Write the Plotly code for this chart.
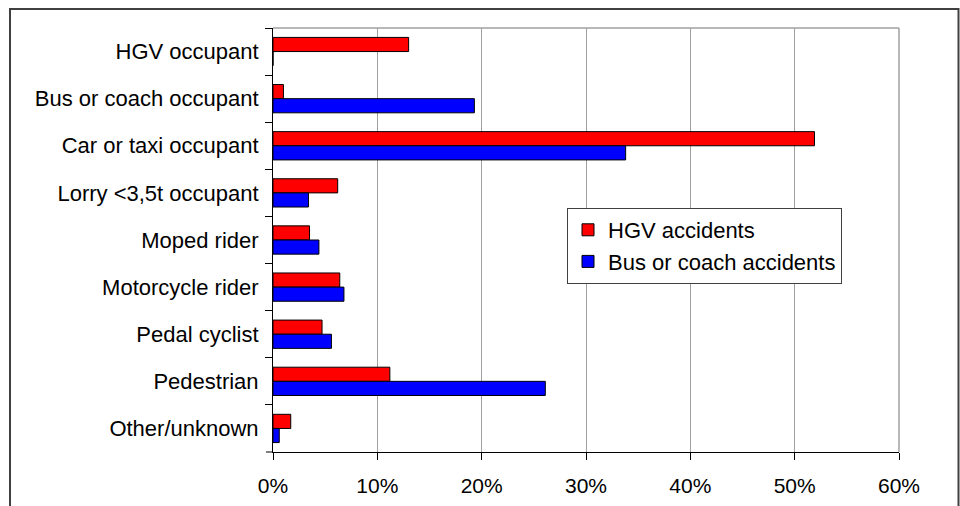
import plotly.graph_objects as go

categories = ["HGV occupant", "Bus or coach occupant", "Car or taxi occupant",
              "Lorry <3,5t occupant", "Moped rider", "Motorcycle rider",
              "Pedal cyclist", "Pedestrian", "Other/unknown"]
hgv_accidents = [13.0, 1.0, 51.9, 6.2, 3.5, 6.4, 4.7, 11.2, 1.7]
bus_accidents = [0.0, 19.3, 33.8, 3.4, 4.4, 6.8, 5.6, 26.1, 0.6]
x_ticks = [0, 10, 20, 30, 40, 50, 60]

FONT = "Liberation Sans, Arial, sans-serif"

fig = go.Figure()
fig.add_trace(go.Bar(y=categories, x=hgv_accidents, orientation="h",
                     name="HGV accidents",
                     marker=dict(color="#FF0000", line=dict(color="#000000", width=1))))
fig.add_trace(go.Bar(y=categories, x=bus_accidents, orientation="h",
                     name="Bus or coach accidents",
                     marker=dict(color="#0000FF", line=dict(color="#000000", width=1))))

W, H = 960, 506
L, R, T, B = 273, 899, 28, 452
pw, ph = R - L, B - T

def px(x):
    return (x - L) / pw

def py(y):
    return (B - y) / ph

shapes = [
    # outer chart frame
    dict(type="rect", xref="paper", yref="paper",
         x0=px(10), x1=px(958.5), y0=py(530), y1=py(9),
         line=dict(color="#404040", width=2), fillcolor="rgba(0,0,0,0)", layer="below"),
    # plot area top/right border
    dict(type="line", xref="paper", yref="paper", x0=0, x1=1, y0=1, y1=1,
         line=dict(color="#a0a0a0", width=1.5)),
    dict(type="line", xref="paper", yref="paper", x0=1, x1=1, y0=0, y1=1,
         line=dict(color="#a0a0a0", width=1.5)),
    # small x-axis extension left of y axis
    dict(type="line", xref="paper", yref="paper", x0=px(266), x1=0, y0=0, y1=0,
         line=dict(color="#000000", width=1)),
]

fig.update_layout(
    width=W, height=H,
    margin=dict(l=L, r=W - R, t=T, b=H - B, pad=0, autoexpand=False),
    paper_bgcolor="white", plot_bgcolor="white",
    font=dict(family=FONT, size=22, color="#000000"),
    barmode="group", bargap=0.4, bargroupgap=0,
    showlegend=True,
    legend=dict(x=px(567), y=py(208), xanchor="left", yanchor="top",
                bgcolor="white", bordercolor="#404040", borderwidth=1,
                traceorder="normal", font=dict(size=22, family=FONT)),
    shapes=shapes,
    xaxis=dict(range=[0, 60], tickvals=x_ticks, ticktext=[f"{v}%" for v in x_ticks],
               tickfont=dict(size=21),
               showgrid=True, gridcolor="#a0a0a0", gridwidth=1,
               showline=True, linecolor="#000000", linewidth=1,
               ticks="outside", ticklen=7, tickcolor="#000000",
               ticklabelstandoff=8, zeroline=False, fixedrange=True),
    yaxis=dict(categoryorder="array", categoryarray=categories, autorange="reversed",
               showline=True, linecolor="#000000", linewidth=1,
               ticks="outside", ticklen=7, tickcolor="#000000", tickson="boundaries",
               ticklabelstandoff=9, showgrid=False, fixedrange=True),
)

fig.write_html("out.html",
               config={"displayModeBar": False, "staticPlot": True},
               post_script="document.body.style.margin='0';"
                           "document.body.style.overflow='hidden';")
